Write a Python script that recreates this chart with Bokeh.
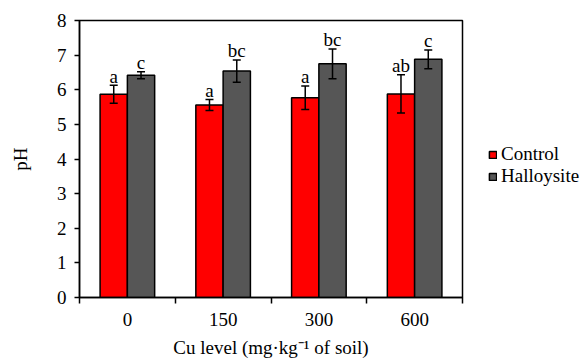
from bokeh.plotting import figure
from bokeh.models import (ColumnDataSource, Whisker, TeeHead, Legend, LegendItem,
                          FixedTicker, Range1d)
from bokeh.core.properties import value
from bokeh.embed import file_html
from bokeh.resources import INLINE
import numpy as np

# ---- data ----
categories = ["0", "150", "300", "600"]
control = [5.87, 5.56, 5.77, 5.88]
control_err = [0.26, 0.16, 0.34, 0.55]
control_letters = ["a", "a", "a", "ab"]
halloysite = [6.42, 6.54, 6.75, 6.88]
halloysite_err = [0.10, 0.32, 0.43, 0.27]
halloysite_letters = ["c", "bc", "bc", "c"]
y_ticks = [0, 1, 2, 3, 4, 5, 6, 7, 8]

FONT = "Liberation Serif"
FS = "19px"
RED = "#FF0000"
GRAY = "#565656"

n = len(categories)
centers = np.arange(n) + 0.5
bw = 0.285

def make_src(vals, errs, letters, shift):
    v = np.array(vals)
    e = np.array(errs)
    return ColumnDataSource(dict(x=centers + shift, top=v, upper=v + e,
                                 lower=v - e, letter=letters))

src_c = make_src(control, control_err, control_letters, -bw / 2)
src_h = make_src(halloysite, halloysite_err, halloysite_letters, bw / 2)

p = figure(width=580, height=358, frame_width=383, frame_height=277,
           x_range=Range1d(0, n), y_range=Range1d(y_ticks[0], y_ticks[-1]),
           output_backend="svg", toolbar_location=None,
           min_border_left=79, min_border_top=20, min_border_bottom=61,
           min_border_right=0, background_fill_color="white",
           border_fill_color="white")

p.xgrid.visible = False
p.ygrid.visible = False
p.outline_line_color = "black"
p.outline_line_width = 1.5

r_c = p.vbar(x="x", top="top", width=bw, bottom=0, source=src_c,
             fill_color=RED, line_color="black", line_width=1.5)
r_h = p.vbar(x="x", top="top", width=bw, bottom=0, source=src_h,
             fill_color=GRAY, line_color="black", line_width=1.5)

for src in (src_c, src_h):
    w = Whisker(base="x", upper="upper", lower="lower", source=src,
                line_width=1.5, line_color="black", level="annotation",
                upper_head=TeeHead(size=8, line_width=1.5, line_color="black"),
                lower_head=TeeHead(size=8, line_width=1.5, line_color="black"))
    p.add_layout(w)
    p.text(x="x", y="upper", text="letter", source=src,
           text_font=value(FONT), text_font_size=FS, text_align="center",
           text_baseline="alphabetic", y_offset=-9, text_color="black")

# x axis: labels at centres, ticks at group boundaries
xa = p.xaxis[0]
xa.ticker = FixedTicker(ticks=list(centers), minor_ticks=list(range(n + 1)))
xa.major_label_overrides = {float(c): cat for c, cat in zip(centers, categories)}
xa.major_tick_out = 0
xa.major_tick_in = 0
xa.minor_tick_out = 6
xa.minor_tick_in = 0
xa.minor_tick_line_color = "black"
xa.minor_tick_line_width = 1.5
xa.axis_line_width = 1.5
xa.major_label_standoff = 9
xa.axis_label = "Cu level (mg·kg⁻¹ of soil)"
xa.axis_label_standoff = 8

ya = p.yaxis[0]
ya.ticker = FixedTicker(ticks=y_ticks, minor_ticks=[])
ya.major_tick_out = 5
ya.major_tick_in = 0
ya.major_tick_line_width = 1.5
ya.axis_line_width = 1.5
ya.major_label_standoff = 8
ya.axis_label = "pH"
ya.axis_label_standoff = 23

for ax in (xa, ya):
    ax.major_label_text_font = FONT
    ax.major_label_text_font_size = FS
    ax.major_label_text_color = "black"
    ax.axis_label_text_font = FONT
    ax.axis_label_text_font_size = FS
    ax.axis_label_text_font_style = "normal"
    ax.axis_label_text_color = "black"
    ax.axis_line_color = "black"
    ax.major_tick_line_color = "black"

legend = Legend(items=[LegendItem(label="Control", renderers=[r_c]),
                       LegendItem(label="Halloysite", renderers=[r_h])],
                location=(26, 110), glyph_width=9, glyph_height=9,
                label_standoff=4, spacing=-2, label_height=19, padding=0,
                margin=0, border_line_color=None, background_fill_alpha=0,
                label_text_font=FONT, label_text_font_size=FS,
                label_text_color="black")
p.add_layout(legend, "right")

open("out.html", "w").write(file_html(p, INLINE))
